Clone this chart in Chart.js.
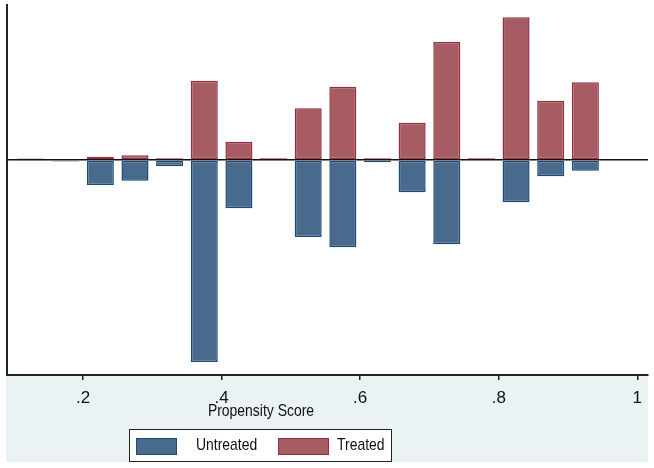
<!DOCTYPE html>
<html>
<head>
<meta charset="utf-8">
<script src="https://cdn.jsdelivr.net/npm/chart.js@4.4.1/dist/chart.umd.min.js"></script>
<style>
    body { margin: 0; background: #ffffff; }
    #wrap { position: relative; width: 654px; height: 468px; font-family: 'Liberation Sans', Arial, sans-serif; }
    #band { position: absolute; left: 6px; top: 376px; width: 642px; height: 86px; background: #eaf2f3; }
    #chart-canvas { position: absolute; left: 0; top: 0; }
    #x-title { position: absolute; left: 161px; width: 200px; top: 401px; text-align: center; font-size: 17px; color: #111; transform: scaleX(0.82); }
    #legend { position: absolute; left: 129px; top: 429px; width: 263px; height: 33px; background: #fff; border: 1.5px solid #222; box-sizing: border-box; }
    .swatch { position: absolute; top: 8px; width: 41px; height: 17px; box-sizing: border-box; border: 1.5px solid; }
    .lbl { position: absolute; top: 5px; font-size: 17px; color: #111; transform: scaleX(0.82); transform-origin: left center; white-space: nowrap; }
</style>
</head>
<body>
<div id="wrap">
    <div id="band"></div>
    <canvas id="chart-canvas" width="654" height="468"></canvas>
    <div id="x-title">Propensity Score</div>
    <div id="legend">
        <div class="swatch" style="left:6px; background:#486a8c; border-color:#1d4a75;"></div>
        <div class="lbl" style="left:66px;">Untreated</div>
        <div class="swatch" style="left:148px; width:51px; background:#a65c62; border-color:#932f3b;"></div>
        <div class="lbl" style="left:207px;">Treated</div>
    </div>
</div>
<script>
// Bin midpoints on the propensity score axis
const binCenters = [0.125, 0.175, 0.225, 0.275, 0.325, 0.375, 0.425, 0.475, 0.525,
                    0.575, 0.625, 0.675, 0.725, 0.775, 0.825, 0.875, 0.925];

// Treated bars (drawn above zero)
const treatedValues = [0.15, 0, 0.33, 0.47, 0.17, 7.93, 1.83, 0.17, 5.17,
                       7.33, 0.17, 3.73, 11.8, 0.17, 14.27, 5.93, 7.77];

// Untreated bars (drawn below zero)
const untreatedValues = [-0.1, -0.15, -2.5, -2.07, -0.63, -20.2, -4.83, -0.05, -7.7,
                         -8.73, -0.23, -3.23, -8.43, 0, -4.23, -1.63, -1.07];

// Tick labels on the x axis
const xTicks = [0.2, 0.4, 0.6, 0.8, 1];
const xTickLabels = ['.2', '.4', '.6', '.8', '1'];

function toPoints(values) {
    return binCenters.map((x, i) => ({ x: x, y: values[i] }));
}

const tickFont = { family: "'Liberation Sans', Arial, sans-serif", size: 17 };

const ctx = document.getElementById('chart-canvas').getContext('2d');
new Chart(ctx, {
    type: 'bar',
    data: {
        datasets: [
            {
                label: 'Untreated',
                data: toPoints(untreatedValues),
                backgroundColor: '#486a8c',
                borderColor: '#1d4a75',
                borderWidth: 1.5,
                borderSkipped: false,
                barPercentage: 0.78,
                categoryPercentage: 1
            },
            {
                label: 'Treated',
                data: toPoints(treatedValues),
                backgroundColor: '#a65c62',
                borderColor: '#932f3b',
                borderWidth: 1.5,
                borderSkipped: false,
                barPercentage: 0.78,
                categoryPercentage: 1
            }
        ]
    },
    options: {
        responsive: false,
        animation: false,
        layout: { padding: { top: 5, right: 6, left: 0, bottom: 0 } },
        plugins: {
            legend: { display: false },
            tooltip: { enabled: false }
        },
        scales: {
            x: {
                type: 'linear',
                stacked: true,
                offset: false,
                min: 0.0903,
                max: 1.0154,
                afterBuildTicks: (scale) => { scale.ticks = xTicks.map(v => ({ value: v })); },
                afterFit: (scale) => { scale.height = 93; },
                ticks: {
                    color: '#111',
                    font: tickFont,
                    padding: 8,
                    maxRotation: 0,
                    autoSkip: false,
                    callback: (value) => xTickLabels[xTicks.indexOf(value)]
                },
                grid: { offset: false, drawOnChartArea: false, tickLength: 5, color: '#222', lineWidth: 1.5 },
                border: { display: true, color: '#222', width: 2 }
            },
            y: {
                stacked: true,
                min: -21.5,
                max: 15.5,
                afterBuildTicks: (scale) => { scale.ticks = [{ value: 0 }]; },
                afterFit: (scale) => { scale.width = 7; },
                ticks: { display: false },
                grid: { drawTicks: false, color: '#111', lineWidth: 1.5 },
                border: { display: true, color: '#222', width: 2 }
            }
        }
    }
});
</script>
</body>
</html>
